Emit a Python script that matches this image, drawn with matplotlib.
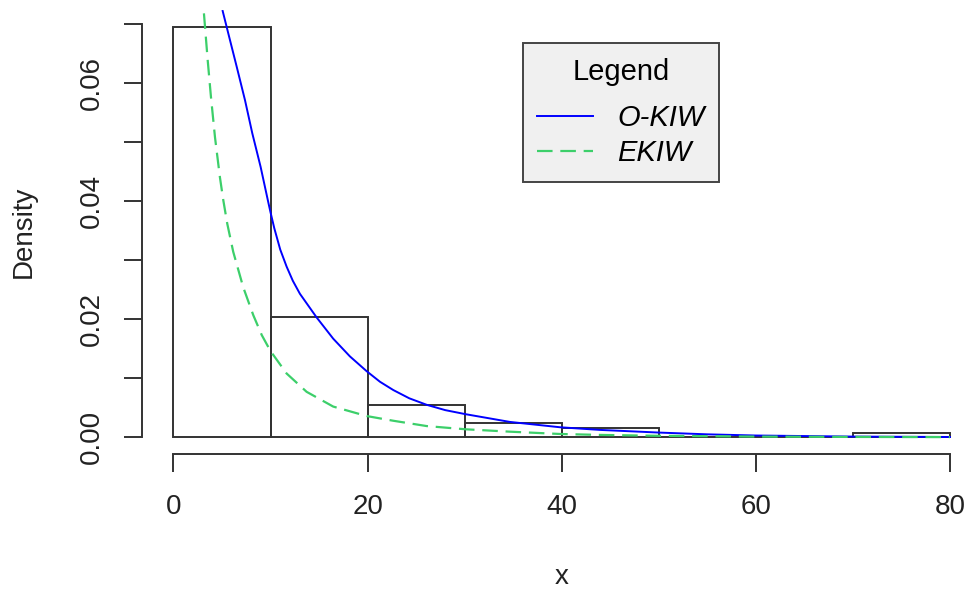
import matplotlib
matplotlib.use('Agg')
import matplotlib.pyplot as plt
import numpy as np

plt.rcParams['font.family'] = ['Liberation Sans', 'DejaVu Sans']

# histogram (density scale), bins of width 10
bin_edges = [0, 10, 20, 30, 40, 50, 60, 70, 80]
densities = [0.0695, 0.0203, 0.00547, 0.00234, 0.00156, 0.0, 0.0, 0.00078]

# fitted densities
okiw_x = [5.07, 5.65, 6.51, 7.37, 8.12, 8.98, 9.77, 10.0, 10.39, 11.0, 11.66, 12.3, 13.03,
          14.75, 16.46, 18.18, 19.9, 21.28, 22.65, 24.3, 26.09, 28.0, 30.14, 34.67,
          39.82, 43.94, 50.0, 55.0, 60.0, 70.0, 80.0]
okiw_y = [0.0722, 0.0684, 0.0628, 0.0571, 0.0515, 0.0458, 0.0398, 0.0381, 0.0354, 0.0318, 0.0289, 0.0265, 0.0243,
          0.0203, 0.0167, 0.0137, 0.0112, 0.0094, 0.0080, 0.0066, 0.0055, 0.0046, 0.0039, 0.0026,
          0.0017, 0.00125, 0.0008, 0.0005, 0.0003, 0.00012, 0.00005]
ekiw_x = [3.14, 3.52, 3.86, 4.28, 4.79, 5.13, 5.54, 6.16, 7.19, 8.22, 9.1, 10.0,
          11.66, 13.72, 16.46, 19.9, 22.65, 26.09, 30.14, 34.67, 39.82,
          43.94, 50.0, 60.0, 70.0, 80.0]
ekiw_y = [0.0718, 0.0640, 0.0577, 0.0508, 0.0440, 0.0402, 0.0362, 0.0314, 0.0254, 0.0207, 0.0173, 0.0146,
          0.0108, 0.0077, 0.0052, 0.0036, 0.0028, 0.0019, 0.00135, 0.00095, 0.00056,
          0.0004, 0.00025, 0.00012, 0.00006, 0.00003]

green = '#3ccf6a'

fig = plt.figure(figsize=(9.69, 5.90), dpi=100)
ax = fig.add_axes([142.4 / 969, 1 - 453.7 / 590, 838.6 / 969, 443.3 / 590])

widths = np.diff(bin_edges)
ax.bar(bin_edges[:-1], densities, width=widths, align='edge',
       facecolor='none', edgecolor='#333333', linewidth=1.4)

ax.plot(okiw_x, okiw_y, color='blue', lw=1.4, label='O-KIW')
ax.plot(ekiw_x, ekiw_y, color=green, lw=1.6, ls=(0, (7, 3.5)), label='EKIW')

ax.set_xlim(-3.2, 83.2)
ax.set_ylim(-0.00278, 0.0723)

for s in ['top', 'right']:
    ax.spines[s].set_visible(False)
ax.spines['left'].set_bounds(0, 0.07)
ax.spines['bottom'].set_bounds(0, 80)
for s in ['left', 'bottom']:
    ax.spines[s].set_color('#333333')
    ax.spines[s].set_linewidth(1.4)

ax.set_xticks([0, 20, 40, 60, 80])
ax.set_yticks(np.arange(0, 0.071, 0.01))
ax.set_yticklabels(['0.00', '', '0.02', '', '0.04', '', '0.06', ''],
                   rotation=90, va='center')
ax.tick_params(axis='both', length=13, width=1.4, color='#333333',
               labelsize=20, labelcolor='#222222')
ax.tick_params(axis='x', pad=16)
ax.tick_params(axis='y', pad=14)

ax.set_xlabel('x', fontsize=20, color='#222222', labelpad=32)
ax.set_ylabel('Density', fontsize=20, color='#222222', labelpad=30)

leg = ax.legend(loc='upper left', bbox_to_anchor=(522.7 / 969, 1 - 43.3 / 590),
                bbox_transform=fig.transFigure, borderaxespad=0,
                title='Legend', title_fontsize=21,
                prop={'style': 'italic', 'size': 21},
                fancybox=False, framealpha=1, facecolor='#f0f0f0',
                edgecolor='#444444', handlelength=1.9, handletextpad=0.85,
                labelspacing=0.25, borderpad=0.5)
leg.get_frame().set_linewidth(1.4)
# extra gap between the title and the entries
leg._legend_box.sep = 13

fig.savefig('out.png', dpi=100)
